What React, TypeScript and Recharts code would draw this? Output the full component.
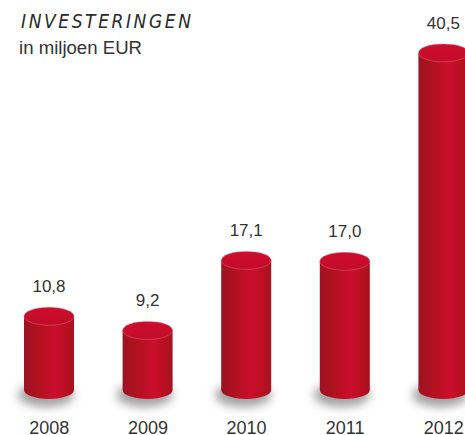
import { Bar, BarChart, LabelList, XAxis, YAxis } from "recharts";

const years = ["2008", "2009", "2010", "2011", "2012"];
const investments = [10.8, 9.2, 17.1, 17.0, 40.5];
const valueLabels = ["10,8", "9,2", "17,1", "17,0", "40,5"];

const data = years.map((year, i) => ({
  year,
  value: investments[i],
  label: valueLabels[i],
}));

const textColor = "#333333";
const font = "'Liberation Sans', Arial, Helvetica, sans-serif";
const narrowFont = "'Liberation Sans Narrow', 'DejaVu Sans Condensed', 'Liberation Sans', sans-serif";

const Cylinder = (props: any) => {
  const { x, y, width, height, index } = props;
  const rx = width / 2;
  const ry = 9;
  const cx = x + rx;
  const topCy = y;
  const botCy = y + height - 22;
  const gid = `cyl-body-${index}`;
  const tid = `cyl-top-${index}`;
  const fid = `cyl-shadow-${index}`;

  return (
    <g>
      <defs>
        <linearGradient id={gid} x1="0" y1="0" x2="1" y2="0">
          <stop offset="0%" stopColor="#9c1322" />
          <stop offset="30%" stopColor="#b3111f" />
          <stop offset="62%" stopColor="#cb0e2d" />
          <stop offset="85%" stopColor="#b8101f" />
          <stop offset="100%" stopColor="#a11321" />
        </linearGradient>
        <linearGradient id={tid} x1="0" y1="0" x2="0" y2="1">
          <stop offset="0%" stopColor="#cd0d2d" />
          <stop offset="100%" stopColor="#c20c29" />
        </linearGradient>
        <filter id={fid} x="-50%" y="-100%" width="200%" height="300%">
          <feGaussianBlur stdDeviation="5" />
        </filter>
      </defs>
      <ellipse
        cx={cx - 3}
        cy={botCy + 5}
        rx={rx + 3}
        ry={ry + 3}
        fill="#555"
        opacity={0.55}
        filter={`url(#${fid})`}
      />
      <path
        d={`M${x},${topCy} L${x},${botCy} A${rx},${ry} 0 0 0 ${x + width},${botCy} L${x + width},${topCy} Z`}
        fill={`url(#${gid})`}
      />
      <ellipse
        cx={cx}
        cy={topCy}
        rx={rx}
        ry={ry}
        fill={`url(#${tid})`}
        stroke="#e47a8a"
        strokeOpacity={0.55}
        strokeWidth={0.8}
      />
    </g>
  );
};

const ValueLabel = (props: any) => {
  const { x, y, width, value } = props;
  return (
    <text
      x={x + width / 2}
      y={y - 24}
      textAnchor="middle"
      fill={textColor}
      fontSize={17}
      fontFamily={font}
    >
      {value}
    </text>
  );
};

const YearTick = (props: any) => {
  const { x, y, payload } = props;
  return (
    <text
      x={x}
      y={y + 14}
      textAnchor="middle"
      fill={textColor}
      fontSize={18}
      fontFamily={font}
    >
      {payload.value}
    </text>
  );
};

export default function App() {
  return (
    <div
      style={{
        position: "absolute",
        left: 0,
        top: 0,
        width: 465,
        height: 435,
        overflow: "hidden",
        background: "#fff",
      }}
    >
      <BarChart
        width={493}
        height={435}
        data={data}
        margin={{ top: 13, right: 0, left: 0, bottom: 0 }}
      >
        <XAxis
          dataKey="year"
          axisLine={false}
          tickLine={false}
          height={23}
          tick={<YearTick />}
          interval={0}
        />
        <YAxis hide domain={[0, 45]} />
        <Bar
          dataKey="value"
          barSize={50}
          shape={<Cylinder />}
          isAnimationActive={false}
        >
          <LabelList dataKey="label" content={<ValueLabel />} />
        </Bar>
      </BarChart>
      <svg
        width={260}
        height={70}
        style={{ position: "absolute", left: 0, top: 0 }}
      >
        <text
          x={21}
          y={27.5}
          fontSize={19}
          fontStyle="italic"
          fontFamily={narrowFont}
          fill="#2a2a2a"
          textLength={170}
          lengthAdjust="spacing"
        >
          INVESTERINGEN
        </text>
        <text
          x={19}
          y={54}
          fontSize={18}
          fontFamily={font}
          fill="#333"
          textLength={123}
          lengthAdjust="spacingAndGlyphs"
        >
          in miljoen EUR
        </text>
      </svg>
    </div>
  );
}
